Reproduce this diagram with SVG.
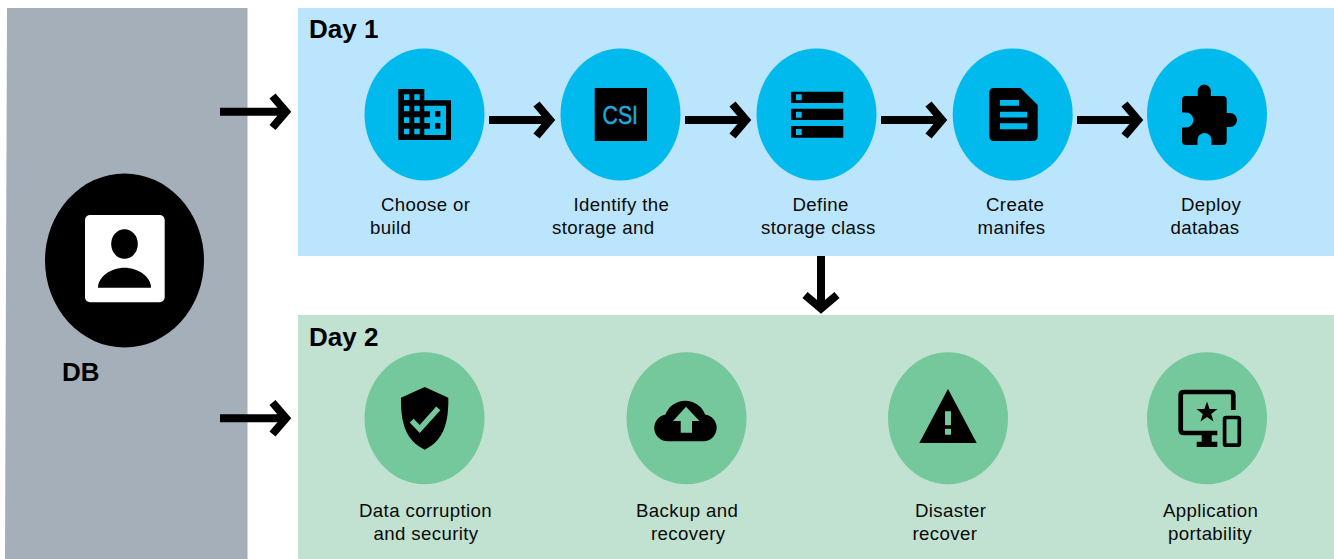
<svg xmlns="http://www.w3.org/2000/svg" width="1334" height="559" viewBox="0 0 1334 559">
<style>
text{font-family:"Liberation Sans",Arial,sans-serif;fill:#0a0a0a}
.l{font-size:18.670px;letter-spacing:.37px}
.h{font-size:26px;font-weight:bold;fill:#000}
.b{fill:#00BAEE}
.g{fill:#75C79C}
.k{fill:#000}
.a{fill:none;stroke:#000;stroke-width:8}
</style>
<defs>
<g id="arrow"><path class="a" d="M0 0H61"/><path class="a" d="M47.500 -16L61 0L47.500 16"/></g>
</defs>
<rect width="1334" height="559" fill="#fff"/>
<g id="panels">
<polygon points="7,8 247.500,8 247.500,559 5,559" fill="#A5AFBA"/>
<rect x="298" y="8" width="1036" height="248" fill="#BBE5FC"/>
<rect x="298" y="315" width="1036" height="244" fill="#C1E2D0"/>
<text class="h" x="309" y="38">Day 1</text>
<text class="h" x="309" y="346">Day 2</text>
</g>
<g id="connectors">
<path class="a" d="M220 111.700H286"/><path class="a" d="M272.500 96L286 111.700L272.500 127.500"/>
<path class="a" d="M220 418.300H286"/><path class="a" d="M272.500 402.500L286 418.300L272.500 434"/>
<use href="#arrow" x="489" y="120"/>
<use href="#arrow" x="685" y="120"/>
<use href="#arrow" x="881" y="120"/>
<use href="#arrow" x="1077" y="120"/>
<path class="a" d="M821 256V308"/><path class="a" d="M805 295L821 308.500L837 295"/>
</g>
<g id="db">
<ellipse class="k" cx="124.500" cy="260.500" rx="79.500" ry="87"/>
<rect x="85" y="215" width="79.700" height="87.300" rx="5" fill="#fff"/>
<ellipse class="k" cx="124.500" cy="244" rx="13.300" ry="14.700"/>
<path class="k" d="M98 287.700C98 276 112 267.700 124.500 267.700C137 267.700 151 276 151 287.700Z"/>
<text class="h" x="62" y="381">DB</text>
</g>
<g id="day1-choose">
<ellipse class="b" cx="424.500" cy="114.500" rx="60" ry="66"/>
<path class="k" d="M398.300 89H424.300V100.300H451V140H398.300Z"/>
<path class="b" d="M404 94.300h5.300v5.700h-5.300zM414.300 94.300h5.400v5.700h-5.400zM404 105.700h5.300v5.600h-5.300zM414.300 105.700h5.400v5.600h-5.400zM404 117.300h5.300v5.700h-5.300zM414.300 117.300h5.400v5.700h-5.400zM404 128.700h5.300v5.600h-5.300zM414.300 128.700h5.400v5.600h-5.400z"/>
<path class="b" d="M424.300 105.700H446V135H424.300V128.700H430V123H424.300V117.300H430V111.300H424.300Z"/>
<path class="k" d="M435 111h5.300v5.700H435zM435 123h5.300v5.700H435z"/>
<text class="l" x="381" y="211">Choose or</text>
<text class="l" x="370" y="233.500">build</text>
</g>
<g id="day1-identify">
<ellipse class="b" cx="620.500" cy="114.500" rx="60" ry="66"/>
<rect class="k" x="594.700" y="88" width="52.300" height="53"/>
<text x="602.500" y="124.300" font-size="26" textLength="35.500" lengthAdjust="spacingAndGlyphs" style="fill:#1FA9D8;stroke:#1FA9D8;stroke-width:.5">CSI</text>
<text class="l" x="573.500" y="211">Identify the</text>
<text class="l" x="552" y="233.500">storage and</text>
</g>
<g id="day1-define">
<ellipse class="b" cx="816.500" cy="114.500" rx="60" ry="66"/>
<path class="k" d="M791 91.700h52.300v11.300H791zM791 108.700h52.300v11.300H791zM791 126h52.300v11.700H791z"/>
<path class="b" d="M796 94.300h5.700v6h-5.700zM796 111.700h5.700v6h-5.700zM796 129h5.700v6h-5.700z"/>
<text class="l" x="792.500" y="211">Define</text>
<text class="l" x="761" y="233.500">storage class</text>
</g>
<g id="day1-create">
<ellipse class="b" cx="1012.700" cy="114.500" rx="60" ry="66"/>
<path class="k" d="M994 88H1020.500L1037.700 105V136Q1037.700 141 1032.700 141H994Q989.300 141 989.300 136V93Q989.300 88 994 88Z"/>
<path class="b" d="M1000 100h19v5.700h-19zM1000 111.700h27.300v5.700h-27.300zM1000 123.300h27.300v6h-27.300z"/>
<text class="l" x="986" y="211">Create</text>
<text class="l" x="977.500" y="233.500">manifes</text>
</g>
<g id="day1-deploy">
<ellipse class="b" cx="1207" cy="114.500" rx="60" ry="66"/>
<path class="k" d="M1197.800 96V91A6.500 6.500 0 0 1 1210.800 91V96H1222.700Q1226.700 96 1226.700 100V113H1230A7 7 0 0 1 1230 127H1226.700V141Q1226.700 145 1222.700 145H1211.500V140A7 7 0 0 0 1197.500 140V145H1186Q1182 145 1182 141V127.500H1186A7.500 7.500 0 0 0 1186 112.500H1182V100Q1182 96 1186 96Z"/>
<text class="l" x="1181" y="211">Deploy</text>
<text class="l" x="1170.500" y="233.500">databas</text>
</g>
<g id="day2-data">
<ellipse class="g" cx="424.500" cy="418.300" rx="60" ry="66"/>
<path class="k" d="M424.700 387L448.300 397.700C448.700 422 444 440 424.700 449.700C405 440 400.700 422 401 397.700Z"/>
<path d="M411.700 420.700L419.700 429L438.300 408.300" fill="none" stroke="#75C79C" stroke-width="5.500"/>
<text class="l" x="359" y="517">Data corruption</text>
<text class="l" x="373.500" y="540">and security</text>
</g>
<g id="day2-backup">
<ellipse class="g" cx="686.500" cy="418.300" rx="60" ry="66"/>
<path class="k" d="M668.300 441.300A13.500 13.500 0 0 1 665.500 414.500A21 21 0 0 1 705 414.500A13.500 13.500 0 0 1 704.500 441.300Z"/>
<path class="g" d="M686 406.700L699.500 421H692V432.700H680.700V421H673Z"/>
<text class="l" x="636" y="517">Backup and</text>
<text class="l" x="651" y="540">recovery</text>
</g>
<g id="day2-disaster">
<ellipse class="g" cx="948" cy="418.300" rx="60" ry="66"/>
<path class="k" d="M948 389L976.700 443H919.300Z"/>
<path class="g" d="M945 411.300h6v14h-6zM945 428.700h6v6h-6z"/>
<text class="l" x="915" y="517">Disaster</text>
<text class="l" x="912.500" y="540">recover</text>
</g>
<g id="day2-application">
<ellipse class="g" cx="1207" cy="418.300" rx="60" ry="66"/>
<path d="M1233.300 410V395Q1233.300 392 1230.300 392H1184Q1180.700 392 1180.700 395V430Q1180.700 433 1184 433H1217.300" fill="none" stroke="#000" stroke-width="4.700"/>
<path class="k" d="M1201.700 435h10v6.700h5.600V447h-20.600v-5.300h5z"/>
<polygon class="k" points="1207,402 1209.600,409.400 1217.500,409.600 1211.200,414.400 1213.500,421.900 1207,417.400 1200.500,421.900 1202.800,414.400 1196.500,409.600 1204.400,409.400" transform="translate(0,-.500)"/>
<rect x="1224.600" y="417.500" width="14.700" height="27.700" rx="1.500" fill="none" stroke="#000" stroke-width="3.700"/>
<text class="l" x="1163" y="517">Application</text>
<text class="l" x="1168" y="540">portability</text>
</g>
</svg>
